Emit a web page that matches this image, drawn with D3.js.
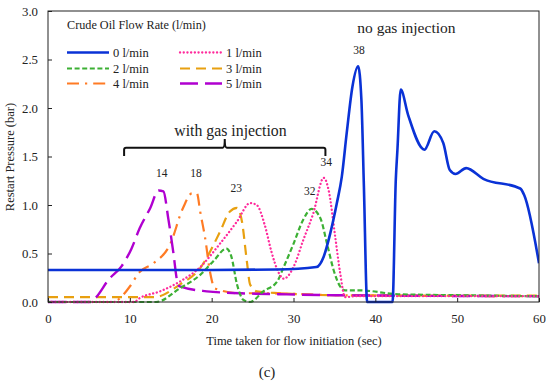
<!DOCTYPE html>
<html>
<head>
<meta charset="utf-8">
<script src="https://cdn.jsdelivr.net/npm/d3@7"></script>
<style>
  html, body { margin: 0; padding: 0; background: #fff; }
  svg { display: block; }
  text { font-family: "Liberation Serif", "DejaVu Serif", serif; fill: #222; }
</style>
</head>
<body>
<svg id="chart" width="550" height="385"></svg>
<script>
// ---- data (time in sec, restart pressure in bar) ----
const seriesNames = ["0 l/min", "1 l/min", "2 l/min", "3 l/min", "4 l/min", "5 l/min"];

const flow0 = [[0,0.33],[10,0.33],[20,0.33],[28,0.335],[32.8,0.36],[33.7,0.47],[34.5,0.71],[35.3,1.02],[35.9,1.29],[36.5,1.74],[37.2,2.22],[37.9,2.43],[38.3,2.08],[38.6,1.2],[39,0],[42.1,0],[42.5,1.26],[42.7,1.57],[43.1,2.19],[44,1.93],[46,1.57],[47.2,1.76],[48.3,1.64],[49.1,1.36],[49.8,1.32],[51.1,1.38],[53.2,1.27],[57.7,1.17],[58.2,1.1],[60,0.40]];

const flow1 = [[0,0],[10.5,0],[11.2,0.04],[13.7,0.11],[16.1,0.21],[18.6,0.36],[21.0,0.60],[23.1,0.83],[24.7,1.02],[25.5,1.0],[26.5,0.79],[27.3,0.52],[28.2,0.30],[28.8,0.24],[30.0,0.36],[31.2,0.64],[32.4,0.91],[33.7,1.28],[34.3,1.15],[35.1,0.67],[35.7,0.30],[36.3,0.05],[37.5,0.06],[60,0.06]];

const flow2 = [[0,0],[13.2,0],[16.1,0.14],[18.6,0.28],[20.2,0.42],[21.8,0.55],[22.4,0.47],[23.1,0.18],[23.9,0.02],[24.7,0],[26.3,0.11],[28.0,0.21],[28.8,0.36],[30.0,0.60],[31.2,0.85],[32.2,0.96],[33.3,0.86],[34.1,0.60],[34.9,0.33],[35.7,0.16],[36.3,0.12],[38.1,0.12],[42.8,0.08],[50,0.07],[60,0.06]];

const flow3 = [[0,0.05],[13.0,0.05],[16.1,0.18],[18.6,0.35],[21.0,0.72],[22.2,0.93],[23.1,0.97],[23.7,0.83],[24.3,0.42],[24.7,0.18],[25.5,0.11],[28.4,0.09],[35,0.07],[60,0.065]];

const flow4 = [[0,0],[8.0,0],[8.8,0.04],[10.0,0.16],[11.2,0.31],[12.9,0.40],[14.9,0.59],[16.5,0.97],[17.6,1.12],[18.2,1.12],[18.6,0.93],[19.2,0.66],[19.8,0.31],[20.4,0.14],[23.5,0.09],[27.1,0.09],[35,0.07],[60,0.06]];

const flow5 = [[0,0],[5.3,0],[5.9,0.05],[7.4,0.23],[9.0,0.37],[10.2,0.55],[11.2,0.76],[12.5,0.97],[13.5,1.15],[14.1,1.14],[14.7,0.86],[15.3,0.52],[15.8,0.21],[16.1,0.16],[19.4,0.11],[23.5,0.09],[28.4,0.08],[35,0.07],[60,0.06]];

const xTicks = [0, 10, 20, 30, 40, 50, 60];
const yTicks = [0, 0.5, 1.0, 1.5, 2.0, 2.5, 3.0];

// peak annotations: [time, pressure, label]
const peakLabels = [[13.9,1.29,"14"],[18.1,1.29,"18"],[23.0,1.13,"23"],[32.0,1.10,"32"],[34.0,1.40,"34"],[38.0,2.56,"38"]];

// ---- styles ----
const colors = ["#0a32d6", "#ff2b9c", "#3cb034", "#e8a010", "#ff7b24", "#b000d0"];
const dashes = [null, "0.1,3.6", "5,2.6", "10,6", "12,6,2.2,6", "18,7"];
const widths = [2.6, 2.3, 2.2, 2.2, 2.2, 2.4];
const caps   = ["butt", "round", "butt", "butt", "butt", "butt"];
const allSeries = [flow0, flow1, flow2, flow3, flow4, flow5];

// ---- layout ----
const svg = d3.select("#chart");
const L = 48, R = 539, T = 11, B = 302;
const x = d3.scaleLinear().domain([0, 60]).range([L, R]);
const y = d3.scaleLinear().domain([0, 3]).range([B, T]);

svg.append("clipPath").attr("id", "clip")
  .append("rect").attr("x", L).attr("y", T - 2).attr("width", R - L).attr("height", B - T + 4);

const line = d3.line().x(d => x(d[0])).y(d => y(d[1])).curve(d3.curveMonotoneX);
const order = [3, 4, 5, 2, 1, 0];
const g = svg.append("g").attr("clip-path", "url(#clip)");
order.forEach(i => {
  g.append("path")
    .datum(allSeries[i])
    .attr("d", line)
    .attr("fill", "none")
    .attr("stroke", colors[i])
    .attr("stroke-width", widths[i])
    .attr("stroke-dasharray", dashes[i])
    .attr("stroke-linecap", caps[i])
    .attr("stroke-linejoin", "round");
});

// axes (inward ticks)
const xAxis = d3.axisBottom(x).tickValues(xTicks).tickFormat(d3.format("d"))
  .tickSizeInner(-4).tickSizeOuter(0).tickPadding(12);
const yAxis = d3.axisLeft(y).tickValues(yTicks).tickFormat(d3.format(".1f"))
  .tickSizeInner(-4).tickSizeOuter(0).tickPadding(10);

const gx = svg.append("g").attr("transform", `translate(0,${B})`).call(xAxis);
const gy = svg.append("g").attr("transform", `translate(${L},0)`).call(yAxis);
[gx, gy].forEach(a => {
  a.attr("font-family", null).attr("font-size", null);
  a.select(".domain").remove();
  a.selectAll("line").attr("stroke", "#222");
  a.selectAll("text").style("font-family", "'Liberation Serif', serif").style("font-size", "12.8px").attr("fill", "#333");
});

// frame
svg.append("rect").attr("x", L).attr("y", T).attr("width", R - L).attr("height", B - T)
  .attr("fill", "none").attr("stroke", "#222").attr("stroke-width", 1);

// axis titles
svg.append("text").attr("x", 294).attr("y", 345).attr("text-anchor", "middle")
  .style("font-size", "12.5px").text("Time taken for flow initiation  (sec)");
svg.append("text").attr("transform", "translate(14,157) rotate(-90)").attr("text-anchor", "middle")
  .style("font-size", "12.5px").text("Restart Pressure (bar)");
svg.append("text").attr("x", 267).attr("y", 377).attr("text-anchor", "middle")
  .style("font-size", "15px").text("(c)");

// legend
svg.append("text").attr("x", 67).attr("y", 29).style("font-size", "12.2px").text("Crude Oil Flow Rate (l/min)");
const legendPos = [[67, 52.5], [180, 52.5], [67, 68.5], [180, 68.5], [67, 83.5], [180, 83.5]];
seriesNames.forEach((name, i) => {
  const [lx, ly] = legendPos[i];
  svg.append("line").attr("x1", lx).attr("x2", lx + 42).attr("y1", ly).attr("y2", ly)
    .attr("stroke", colors[i]).attr("stroke-width", widths[i])
    .attr("stroke-dasharray", dashes[i]).attr("stroke-linecap", caps[i]);
  svg.append("text").attr("x", lx + 46).attr("y", ly + 4.5).style("font-size", "12.5px").text(name);
});

// peak labels
peakLabels.forEach(p => {
  svg.append("text").attr("x", x(p[0])).attr("y", y(p[1])).attr("text-anchor", "middle")
    .style("font-size", "11.5px").text(p[2]);
});

// bracket "with gas injection"
const bx0 = x(9.3), bx1 = x(33.9), bxm = x(21.6);
const by = y(1.59), byEnd = y(1.505), byTop = y(1.68);
const bp = d3.path();
bp.moveTo(bx0, byEnd);
bp.lineTo(bx0, by + 2);
bp.quadraticCurveTo(bx0, by, bx0 + 2, by);
bp.lineTo(bxm - 2, by);
bp.quadraticCurveTo(bxm, by, bxm, byTop);
bp.quadraticCurveTo(bxm, by, bxm + 2, by);
bp.lineTo(bx1 - 2, by);
bp.quadraticCurveTo(bx1, by, bx1, by + 2);
bp.lineTo(bx1, byEnd);
svg.append("path").attr("d", bp.toString()).attr("fill", "none").attr("stroke", "#111").attr("stroke-width", 2);

svg.append("text").attr("x", x(22.3)).attr("y", y(1.71)).attr("text-anchor", "middle")
  .style("font-size", "15.8px").text("with gas injection");
svg.append("text").attr("x", x(43.8)).attr("y", y(2.77)).attr("text-anchor", "middle")
  .style("font-size", "15.5px").text("no gas injection");
</script>
</body>
</html>
